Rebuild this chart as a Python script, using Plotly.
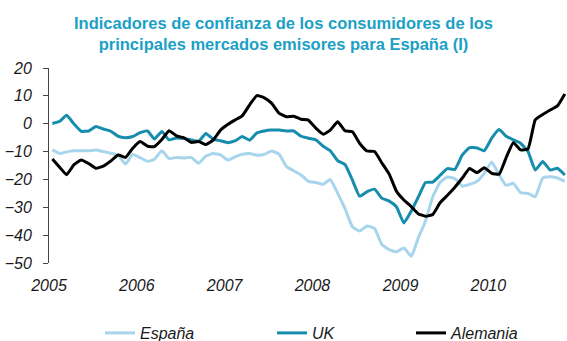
import pandas as pd
import plotly.graph_objects as go

# Monthly consumer confidence indicators, Jan 2005 - Nov 2010
months = pd.date_range("2005-01-01", periods=71, freq="MS") + pd.Timedelta(days=14)

espana = [-9.4, -10.7, -10.1, -9.7, -9.7, -9.7, -9.4, -10.0, -10.6, -11.3, -14.5, -11.0,
          -12.2, -13.5, -12.8, -9.7, -12.5, -12.1, -12.3, -12.1, -14.2, -11.6, -10.7, -11.2,
          -13.0, -11.8, -11.0, -10.7, -11.3, -11.0, -9.8, -10.9, -15.4, -16.9, -18.4, -20.7,
          -21.1, -21.7, -20.0, -25.0, -30.4, -37.0, -38.5, -36.7, -37.6, -43.3, -45.2, -46.0,
          -44.6, -47.6, -41.2, -34.9, -26.2, -21.0, -19.1, -19.7, -22.4, -21.8, -20.7, -17.8,
          -13.7, -18.4, -22.1, -21.4, -24.8, -25.0, -26.2, -19.5, -19.0, -19.5, -20.7]

uk = [0.1, 0.9, 3.0, -0.1, -2.7, -2.6, -1.0, -1.9, -2.7, -4.5, -5.0, -4.6,
      -3.2, -2.6, -5.5, -2.8, -5.8, -5.1, -5.3, -5.8, -6.3, -3.5, -5.6, -6.1,
      -6.8, -6.1, -4.6, -5.9, -3.3, -2.6, -2.3, -2.3, -2.6, -2.6, -4.5, -5.2,
      -5.8, -8.1, -9.7, -13.3, -14.6, -20.2, -26.0, -24.4, -23.5, -26.7, -27.8, -29.8,
      -35.6, -31.3, -26.5, -21.1, -21.0, -18.5, -16.1, -16.4, -11.2, -8.6, -8.7, -9.7,
      -5.2, -2.1, -4.4, -5.8, -7.0, -10.0, -16.6, -13.6, -16.6, -16.0, -18.4]

alemania = [-12.7, -15.7, -18.3, -14.7, -13.0, -14.3, -16.0, -15.2, -13.4, -11.2, -12.1, -8.8,
            -6.4, -8.1, -8.2, -5.7, -2.5, -4.4, -5.0, -6.7, -6.4, -7.5, -5.8, -2.3,
            -0.2, 1.4, 2.8, 6.8, 10.1, 9.3, 7.4, 3.8, 2.5, 2.7, 1.6, 1.3,
            -1.6, -3.8, -2.3, 0.7, -2.5, -2.9, -7.0, -9.8, -10.0, -14.0, -18.1, -24.2,
            -27.4, -29.8, -32.3, -33.2, -32.6, -28.3, -25.7, -22.8, -19.5, -16.1, -17.6, -15.8,
            -17.8, -18.1, -12.4, -6.8, -9.4, -9.0, 1.4, 3.3, 4.9, 6.4, 10.7]

series_names = ["España", "UK", "Alemania"]
series_colors = ["#a6d5ec", "#168dad", "#000000"]
year_ticks = pd.date_range("2005-01-01", "2010-01-01", freq="YS")
year_labels = [str(d.year) for d in year_ticks]
y_ticks = [20, 10, 0, -10, -20, -30, -40, -50]

W, H = 567, 341
FONT = "Liberation Sans, Arial, sans-serif"

fig = go.Figure()
legend_ids = ["legend", "legend2", "legend3"]
for name, vals, color, lg in zip(series_names, [espana, uk, alemania], series_colors, legend_ids):
    fig.add_trace(go.Scatter(
        x=months, y=vals, name=name, mode="lines",
        line=dict(color=color, width=3, shape="spline", smoothing=0.4),
        legend=lg, hoverinfo="skip",
    ))

x_range = ["2005-01-01", "2010-11-24"]
zero_pos = (0 - (-50)) / (20 - (-50))

legend_style = dict(
    orientation="h", xref="container", yref="container", y=1 - 333 / H,
    yanchor="middle", xanchor="left", bgcolor="rgba(0,0,0,0)",
    font=dict(family=FONT, size=16, color="#1a1a1a", style="italic"),
    itemwidth=30,
)

fig.update_layout(
    width=W, height=H,
    margin=dict(l=49, r=0, t=68, b=78),
    paper_bgcolor="white", plot_bgcolor="white",
    title=dict(
        text="<b>Indicadores de confianza de los consumidores de los<br>principales mercados emisores para España (I)</b>",
        x=0.5, xref="container", xanchor="center",
        y=1 - 29 / H, yref="container", yanchor="top",
        font=dict(family=FONT, size=16.5, color="#1ba0c6"),
    ),
    xaxis=dict(
        type="date", range=x_range,
        tickvals=year_ticks, ticktext=year_labels,
        showline=False, showgrid=False, zeroline=False, ticks="",
        tickfont=dict(family=FONT, size=16, color="#1a1a1a", style="italic"),
        ticklabelstandoff=11,
    ),
    xaxis2=dict(
        type="date", overlaying="x", matches="x", anchor="free", position=zero_pos,
        side="bottom", tickvals=year_ticks, showticklabels=False,
        ticks="outside", ticklen=5, tickwidth=1, tickcolor="#555555",
        showline=True, linecolor="#808080", linewidth=2,
        showgrid=False, zeroline=False, layer="below traces",
    ),
    yaxis=dict(
        range=[-50, 20], tickvals=y_ticks,
        showline=True, linecolor="#444444", linewidth=1,
        ticks="outside", ticklen=5, tickcolor="#444444",
        showgrid=False, zeroline=False,
        tickfont=dict(family=FONT, size=16, color="#1a1a1a", style="italic"),
        ticklabelstandoff=8,
    ),
    legend=dict(x=100 / W, **legend_style),
    legend2=dict(x=272 / W, **legend_style),
    legend3=dict(x=411 / W, **legend_style),
    showlegend=True,
)

fig.write_html("out.html")
